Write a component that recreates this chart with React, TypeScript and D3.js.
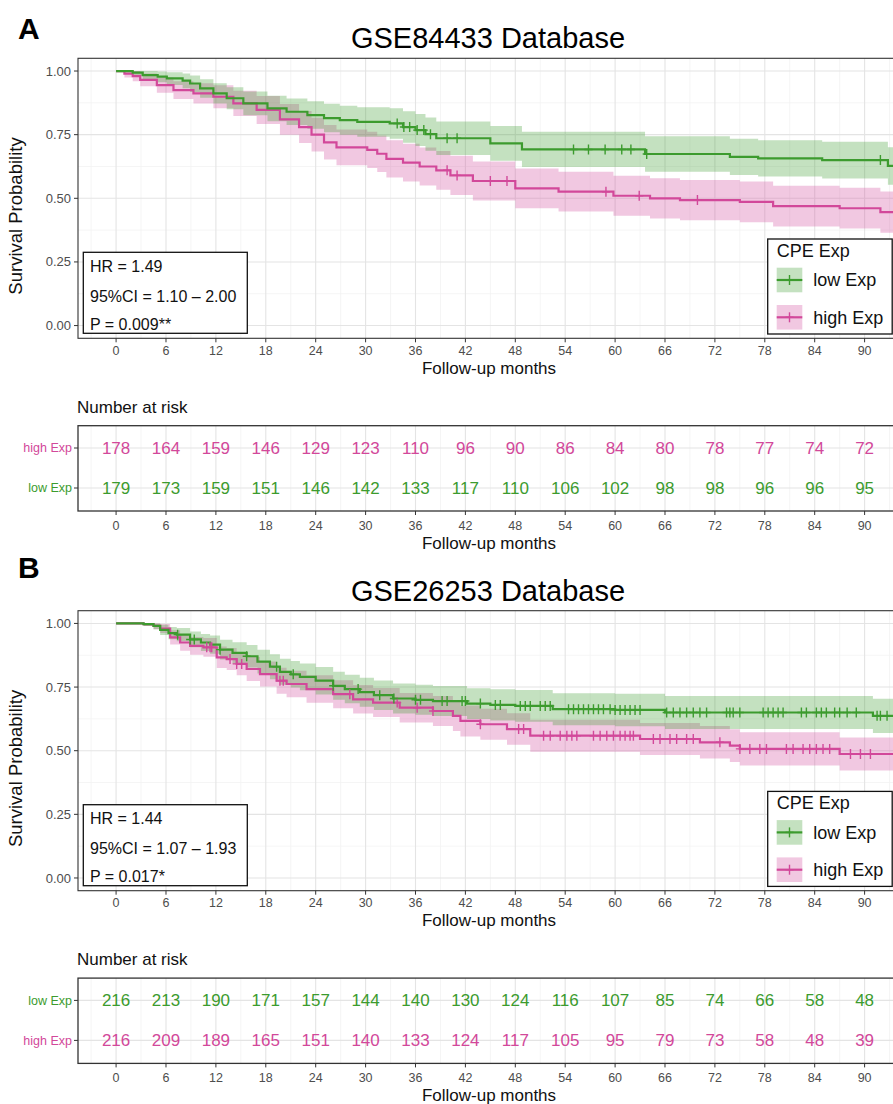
import React from 'react';
import * as d3 from 'd3';

const FONT = "'Liberation Sans', Arial, Helvetica, sans-serif";
const GREEN = '#3c9b2e';
const PINK = '#d2489a';

// ---------- axis ticks ----------
const monthTicks = [0, 6, 12, 18, 24, 30, 36, 42, 48, 54, 60, 66, 72, 78, 84, 90];
const survTicks = [0, 0.25, 0.5, 0.75, 1];
const survMinor = [0.125, 0.375, 0.625, 0.875];
const maxMonth = 91.6;
const curveEnd = 95;

// ---------- Panel A: GSE84433 ----------
const aLowTime = [0, 2, 3.2, 5, 6.1, 8, 8.9, 10.1, 11.7, 13.3, 15.3, 18.2, 20.5, 23, 25, 26.9, 29, 32.9, 34.5, 36, 37.2, 38.5, 45, 48.8, 63.6, 73.8, 77.2, 84.9, 92.8];
const aLowSurv = [1, 0.994, 0.984, 0.978, 0.971, 0.962, 0.951, 0.932, 0.912, 0.893, 0.873, 0.853, 0.84, 0.827, 0.815, 0.807, 0.8, 0.794, 0.78, 0.768, 0.752, 0.736, 0.716, 0.692, 0.674, 0.663, 0.657, 0.65, 0.627];
const aLowLower = [1, 0.982, 0.966, 0.956, 0.945, 0.932, 0.918, 0.895, 0.872, 0.85, 0.826, 0.803, 0.788, 0.773, 0.759, 0.75, 0.742, 0.734, 0.718, 0.705, 0.687, 0.67, 0.648, 0.623, 0.604, 0.592, 0.586, 0.578, 0.553];
const aLowUpper = [1, 1, 1, 0.998, 0.995, 0.99, 0.982, 0.968, 0.952, 0.936, 0.92, 0.903, 0.892, 0.881, 0.871, 0.864, 0.858, 0.854, 0.842, 0.831, 0.817, 0.802, 0.784, 0.761, 0.744, 0.734, 0.728, 0.722, 0.701];
const aLowCensor = [33.8, 34.6, 35.3, 36.2, 37, 37.8, 39.8, 41, 55, 56.8, 58.8, 60.8, 61.9, 63.8, 91.9];

const aHighTime = [0, 1, 2, 2.9, 4.9, 6.9, 9.3, 11.7, 14.1, 16.9, 19.7, 22, 23.5, 25, 26.5, 30.2, 31.4, 32.5, 34.5, 36.5, 38.5, 40.2, 42.9, 48, 53.2, 59.8, 64.2, 67.8, 75, 79, 87, 91.9];
const aHighSurv = [1, 0.99, 0.98, 0.965, 0.945, 0.925, 0.912, 0.899, 0.873, 0.847, 0.81, 0.78, 0.75, 0.72, 0.7, 0.69, 0.675, 0.655, 0.64, 0.625, 0.61, 0.59, 0.568, 0.539, 0.526, 0.51, 0.5, 0.493, 0.486, 0.469, 0.461, 0.446];
const aHighLower = [1, 0.975, 0.96, 0.94, 0.915, 0.89, 0.872, 0.854, 0.823, 0.792, 0.75, 0.717, 0.684, 0.652, 0.63, 0.619, 0.603, 0.582, 0.566, 0.55, 0.534, 0.513, 0.491, 0.461, 0.448, 0.431, 0.421, 0.414, 0.406, 0.389, 0.381, 0.365];
const aHighUpper = [1, 1, 1, 0.99, 0.975, 0.96, 0.952, 0.944, 0.923, 0.902, 0.87, 0.843, 0.816, 0.788, 0.77, 0.761, 0.747, 0.728, 0.714, 0.7, 0.686, 0.667, 0.645, 0.617, 0.604, 0.589, 0.579, 0.572, 0.566, 0.549, 0.541, 0.527];
const aHighCensor = [39.8, 41, 45, 47, 58.9, 62.9, 69.9];

const aRiskHigh = [178, 164, 159, 146, 129, 123, 110, 96, 90, 86, 84, 80, 78, 77, 74, 72];
const aRiskLow = [179, 173, 159, 151, 146, 142, 133, 117, 110, 106, 102, 98, 98, 96, 96, 95];
const aStats = ['HR = 1.49', '95%CI = 1.10 \u2013 2.00', 'P = 0.009**'];

// ---------- Panel B: GSE26253 ----------
const bLowTime = [0, 3.3, 4.5, 5.3, 6.3, 7.3, 8.9, 10.2, 11.3, 12.5, 14, 15.7, 17, 18.5, 19.7, 21, 22.1, 24, 26.1, 27.5, 29.3, 31, 33.3, 36, 38.1, 42.2, 45, 48, 52.5, 60, 66, 91];
const bLowSurv = [1, 0.997, 0.99, 0.975, 0.962, 0.956, 0.937, 0.925, 0.917, 0.897, 0.884, 0.871, 0.85, 0.83, 0.81, 0.8, 0.79, 0.775, 0.755, 0.742, 0.73, 0.718, 0.705, 0.7, 0.695, 0.685, 0.68, 0.676, 0.663, 0.66, 0.65, 0.637];
const bLowLower = [1, 0.99, 0.977, 0.955, 0.938, 0.93, 0.906, 0.892, 0.881, 0.858, 0.842, 0.827, 0.803, 0.781, 0.759, 0.748, 0.737, 0.721, 0.7, 0.686, 0.673, 0.66, 0.646, 0.641, 0.636, 0.625, 0.619, 0.614, 0.6, 0.596, 0.585, 0.57];
const bLowUpper = [1, 1, 1, 0.995, 0.986, 0.982, 0.968, 0.958, 0.953, 0.936, 0.926, 0.915, 0.897, 0.879, 0.861, 0.852, 0.843, 0.829, 0.81, 0.798, 0.787, 0.776, 0.764, 0.759, 0.754, 0.745, 0.741, 0.738, 0.726, 0.724, 0.715, 0.704];
const bLowCensor = [7.4, 8.9, 9.4, 12.5, 15.7, 19.3, 21.3, 26.1, 29.1, 31.7, 33.4, 36, 36.6, 39.2, 39.8, 41.6, 42, 43.8, 45.6, 46.2, 48.6, 49.2, 49.8, 51, 51.6, 52.2, 54.4, 55, 55.6, 56.2, 56.8, 57.4, 58, 58.6, 59.4, 60, 60.6, 61.2, 61.8, 62.4, 63, 66.2, 67, 67.8, 68.6, 69.4, 70.2, 71, 73.4, 73.8, 74.2, 75, 77.8, 78.4, 79, 79.6, 80.2, 82.4, 83, 84.2, 84.8, 85.4, 86.4, 87, 87.9, 89, 91.5, 91.9, 92.7];

const bHighTime = [0, 3.3, 4.5, 5.3, 6.5, 7.7, 8.9, 10.5, 12.1, 13.3, 14.5, 15.7, 17.3, 19.3, 20.5, 22.9, 26.1, 28.5, 30.9, 34.1, 38.1, 40.5, 41.4, 43.8, 47, 49.8, 63, 70.2, 73.8, 75, 87];
const bHighSurv = [1, 0.997, 0.99, 0.98, 0.945, 0.925, 0.912, 0.906, 0.867, 0.86, 0.841, 0.821, 0.801, 0.775, 0.762, 0.742, 0.722, 0.702, 0.689, 0.669, 0.656, 0.637, 0.617, 0.604, 0.585, 0.559, 0.546, 0.533, 0.52, 0.507, 0.487];
const bHighLower = [1, 0.99, 0.977, 0.962, 0.917, 0.893, 0.877, 0.869, 0.825, 0.817, 0.796, 0.774, 0.752, 0.724, 0.71, 0.688, 0.667, 0.646, 0.632, 0.611, 0.597, 0.577, 0.556, 0.543, 0.523, 0.496, 0.483, 0.469, 0.456, 0.442, 0.422];
const bHighUpper = [1, 1, 1, 0.998, 0.973, 0.957, 0.947, 0.943, 0.909, 0.903, 0.886, 0.868, 0.85, 0.826, 0.814, 0.796, 0.777, 0.758, 0.746, 0.727, 0.715, 0.697, 0.678, 0.665, 0.647, 0.622, 0.609, 0.597, 0.584, 0.572, 0.552];
const bHighCensor = [10.9, 11.3, 11.5, 13.7, 14.5, 15.1, 19.7, 20.1, 28.1, 33.8, 36.2, 38.1, 43.8, 48.4, 49, 51.4, 52.2, 53.4, 54.2, 54.8, 55.4, 57.4, 58.2, 59, 59.8, 60.6, 61.2, 61.8, 62.2, 64.6, 65.4, 66.6, 67.4, 68.6, 69.4, 72.6, 75, 76.2, 77.4, 78.2, 80.6, 81.4, 82.6, 83.4, 84.2, 85, 85.8, 88.3, 89.5, 90.7];

const bRiskLow = [216, 213, 190, 171, 157, 144, 140, 130, 124, 116, 107, 85, 74, 66, 58, 48];
const bRiskHigh = [216, 209, 189, 165, 151, 140, 133, 124, 117, 105, 95, 79, 73, 58, 48, 39];
const bStats = ['HR = 1.44', '95%CI = 1.07 \u2013 1.93', 'P = 0.017*'];

const legendTitle = 'CPE Exp';
const groupNames = ['low Exp', 'high Exp'];

// ---------- layout ----------
const PL = 78;
const PR = 916;
const x = d3.scaleLinear().domain([-0.05 * maxMonth, 1.05 * maxMonth]).range([PL, PR]);
const minorMonths = d3.range(-3, 96, 6);

type Curve = { name: string; color: string; time: number[]; surv: number[]; lower: number[]; upper: number[]; censor: number[] };

function steps(c: Curve) {
  const pts = c.time.map((t, i) => ({ t, s: c.surv[i], lo: c.lower[i], up: c.upper[i] }));
  const last = pts[pts.length - 1];
  pts.push({ t: curveEnd, s: last.s, lo: last.lo, up: last.up });
  return pts;
}

function survAt(c: Curve, t: number) {
  const i = d3.bisectRight(c.time, t) - 1;
  return c.surv[Math.max(0, i)];
}

const gridMajor = '#e4e4e4';
const gridMinor = '#f3f3f3';
const tickCol = '#4d4d4d';

function Censor({ cx, cy, color }: { cx: number; cy: number; color: string }) {
  return (
    <g stroke={color} strokeWidth={1.4}>
      <line x1={cx} x2={cx} y1={cy - 5} y2={cy + 5} />
      <line x1={cx - 4} x2={cx + 4} y1={cy} y2={cy} />
    </g>
  );
}

function KMPanel({ dy, id, title, curves, stats }: { dy: number; id: string; title: string; curves: Curve[]; stats: string[] }) {
  const top = 58.3;
  const bottom = 338.3;
  const y = d3.scaleLinear().domain([-0.05, 1.05]).range([bottom, top]);
  const line = d3.line<any>().x((d) => x(d.t)).y((d) => y(d.s)).curve(d3.curveStepAfter);
  const area = d3.area<any>().x((d) => x(d.t)).y0((d) => y(d.lo)).y1((d) => y(d.up)).curve(d3.curveStepAfter);
  const clipId = 'clip' + id;
  const drawOrder = [curves[1], curves[0]];
  return (
    <g transform={`translate(0,${dy})`}>
      <defs>
        <clipPath id={clipId}>
          <rect x={PL} y={top} width={PR - PL} height={bottom - top} />
        </clipPath>
      </defs>
      <text x={488} y={48.3} textAnchor="middle" fontSize={29} fill="#000">{title}</text>
      <rect x={PL} y={top} width={PR - PL} height={bottom - top} fill="#fff" />
      {minorMonths.map((m) => (
        <line key={'vm' + m} x1={x(m)} x2={x(m)} y1={top} y2={bottom} stroke={gridMinor} strokeWidth={0.8} />
      ))}
      {survMinor.map((s) => (
        <line key={'hm' + s} x1={PL} x2={PR} y1={y(s)} y2={y(s)} stroke={gridMinor} strokeWidth={0.8} />
      ))}
      {monthTicks.concat([96]).map((m) => (
        <line key={'vM' + m} x1={x(m)} x2={x(m)} y1={top} y2={bottom} stroke={gridMajor} strokeWidth={1.1} />
      ))}
      {survTicks.map((s) => (
        <line key={'hM' + s} x1={PL} x2={PR} y1={y(s)} y2={y(s)} stroke={gridMajor} strokeWidth={1.1} />
      ))}
      <g clipPath={`url(#${clipId})`}>
        {drawOrder.map((c) => (
          <path key={'b' + c.name} d={area(steps(c)) || ''} fill={c.color} fillOpacity={0.3} stroke="none" />
        ))}
        {drawOrder.map((c) => (
          <path key={'l' + c.name} d={line(steps(c)) || ''} fill="none" stroke={c.color} strokeWidth={2.2} />
        ))}
        {drawOrder.map((c) =>
          c.censor.map((t, i) => <Censor key={c.name + i} cx={x(t)} cy={y(survAt(c, t))} color={c.color} />)
        )}
      </g>
      {/* HR box */}
      <rect x={83.3} y={252.3} width={164} height={81} fill="#fff" stroke="#111" strokeWidth={1.3} />
      {stats.map((s, i) => (
        <text key={s} x={90} y={[271.7, 301.5, 330][i]} fontSize={16} fill="#111">{s}</text>
      ))}
      {/* legend */}
      <rect x={767.7} y={239} width={124.5} height={95} fill="#fff" stroke="#111" strokeWidth={1.3} />
      <text x={776.7} y={257} fontSize={18} fill="#111">{legendTitle}</text>
      {curves.map((c, i) => {
        const ky = [267.7, 305][i];
        const kc = ky + 12.3;
        return (
          <g key={'lg' + c.name}>
            <rect x={776.7} y={ky} width={25.6} height={24.6} fill={c.color} fillOpacity={0.3} />
            <line x1={776.7} x2={802.3} y1={kc} y2={kc} stroke={c.color} strokeWidth={2.2} />
            <Censor cx={789.5} cy={kc} color={c.color} />
            <text x={813.3} y={kc + 6.3} fontSize={18} fill="#111">{c.name}</text>
          </g>
        );
      })}
      <rect x={PL} y={top} width={PR - PL} height={bottom - top} fill="none" stroke="#333" strokeWidth={1.1} />
      {survTicks.map((s) => (
        <g key={'yt' + s}>
          <line x1={PL - 4} x2={PL} y1={y(s)} y2={y(s)} stroke="#333" />
          <text x={PL - 7} y={y(s)} dy="0.35em" textAnchor="end" fontSize={13} fill={tickCol}>{s.toFixed(2)}</text>
        </g>
      ))}
      {monthTicks.map((m) => (
        <g key={'xt' + m}>
          <line x1={x(m)} x2={x(m)} y1={bottom} y2={bottom + 4} stroke="#333" />
          <text x={x(m)} y={354.5} textAnchor="middle" fontSize={12.5} fill={tickCol}>{m}</text>
        </g>
      ))}
      <text x={489} y={373.5} textAnchor="middle" fontSize={17} fill="#111">Follow-up months</text>
      <text transform={`translate(22,216) rotate(-90)`} textAnchor="middle" fontSize={18.5} fill="#111">Survival Probability</text>
    </g>
  );
}

type RiskRow = { name: string; color: string; values: number[] };

function RiskTable({ dy, rows }: { dy: number; rows: RiskRow[] }) {
  const top = 425.7;
  const bottom = 511;
  const rowY = [448, 488];
  return (
    <g transform={`translate(0,${dy})`}>
      <text x={77} y={413} fontSize={17} fill="#111">Number at risk</text>
      <rect x={PL} y={top} width={PR - PL} height={bottom - top} fill="#fff" />
      {minorMonths.map((m) => (
        <line key={'rvm' + m} x1={x(m)} x2={x(m)} y1={top} y2={bottom} stroke={gridMinor} strokeWidth={0.8} />
      ))}
      {monthTicks.concat([96]).map((m) => (
        <line key={'rvM' + m} x1={x(m)} x2={x(m)} y1={top} y2={bottom} stroke={gridMajor} strokeWidth={1.1} />
      ))}
      {rowY.map((ry) => (
        <line key={'rh' + ry} x1={PL} x2={PR} y1={ry} y2={ry} stroke={gridMajor} strokeWidth={1.1} />
      ))}
      {rows.map((r, ri) =>
        r.values.map((v, i) => (
          <text key={r.name + i} x={x(monthTicks[i])} y={rowY[ri]} dy="0.35em" textAnchor="middle" fontSize={17} fill={r.color}>{v}</text>
        ))
      )}
      <rect x={PL} y={top} width={PR - PL} height={bottom - top} fill="none" stroke="#333" strokeWidth={1.3} />
      {rows.map((r, ri) => (
        <g key={'rl' + r.name}>
          <line x1={PL - 4} x2={PL} y1={rowY[ri]} y2={rowY[ri]} stroke="#333" />
          <text x={PL - 6} y={rowY[ri]} dy="0.35em" textAnchor="end" fontSize={12.5} fill={r.color}>{r.name}</text>
        </g>
      ))}
      {monthTicks.map((m) => (
        <g key={'rxt' + m}>
          <line x1={x(m)} x2={x(m)} y1={bottom} y2={bottom + 4} stroke="#333" />
          <text x={x(m)} y={530} textAnchor="middle" fontSize={12.5} fill={tickCol}>{m}</text>
        </g>
      ))}
      <text x={489} y={549} textAnchor="middle" fontSize={17} fill="#111">Follow-up months</text>
    </g>
  );
}

const curvesA: Curve[] = [
  { name: groupNames[0], color: GREEN, time: aLowTime, surv: aLowSurv, lower: aLowLower, upper: aLowUpper, censor: aLowCensor },
  { name: groupNames[1], color: PINK, time: aHighTime, surv: aHighSurv, lower: aHighLower, upper: aHighUpper, censor: aHighCensor },
];
const curvesB: Curve[] = [
  { name: groupNames[0], color: GREEN, time: bLowTime, surv: bLowSurv, lower: bLowLower, upper: bLowUpper, censor: bLowCensor },
  { name: groupNames[1], color: PINK, time: bHighTime, surv: bHighSurv, lower: bHighLower, upper: bHighUpper, censor: bHighCensor },
];
const riskA: RiskRow[] = [
  { name: groupNames[1], color: PINK, values: aRiskHigh },
  { name: groupNames[0], color: GREEN, values: aRiskLow },
];
const riskB: RiskRow[] = [
  { name: groupNames[0], color: GREEN, values: bRiskLow },
  { name: groupNames[1], color: PINK, values: bRiskHigh },
];

export default function App() {
  const off = 552.4;
  return (
    <svg
      width={893}
      height={1104}
      viewBox="0 0 893 1104"
      style={{ position: 'absolute', left: 0, top: 0, background: '#fff', fontFamily: FONT }}
    >
      <rect x={0} y={0} width={893} height={1104} fill="#fff" />
      <text x={18} y={38.5} fontSize={30} fontWeight="bold" fill="#000">A</text>
      <text x={18} y={578} fontSize={30} fontWeight="bold" fill="#000">B</text>
      <KMPanel dy={0} id="A" title="GSE84433 Database" curves={curvesA} stats={aStats} />
      <RiskTable dy={0} rows={riskA} />
      <KMPanel dy={off} id="B" title="GSE26253 Database" curves={curvesB} stats={bStats} />
      <RiskTable dy={off} rows={riskB} />
    </svg>
  );
}
